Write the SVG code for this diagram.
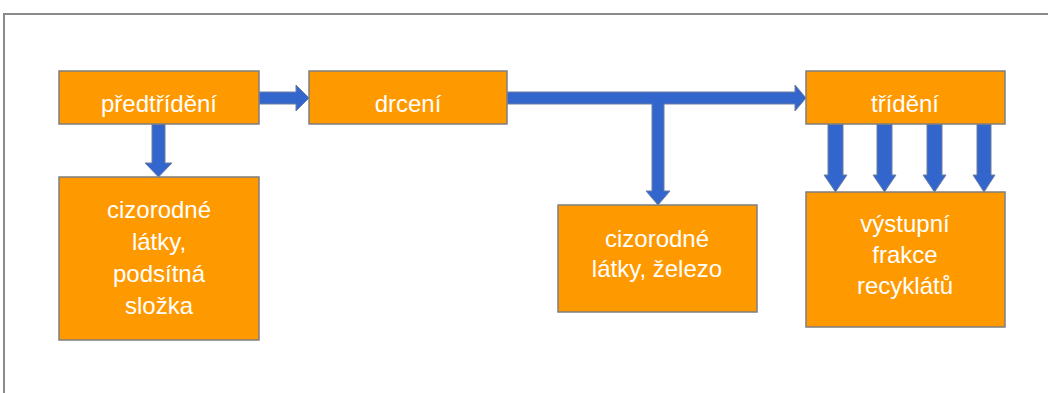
<svg xmlns="http://www.w3.org/2000/svg" width="1048" height="393" viewBox="0 0 1048 393">
<style>
.box{fill:#FF9900;stroke:#7F7F7F;stroke-width:1.5}
.arr{fill:#3366CC;stroke:#6F7F9F;stroke-width:1}
.t{font-family:"Liberation Sans",Arial,sans-serif;font-size:24px;fill:#FFFFFF;text-anchor:middle}
.frame{stroke:#8A8A8A;stroke-width:2;fill:none}
</style>
<rect width="1048" height="393" fill="#FFFFFF"/>
<path class="frame" d="M4,393 V14 H1048"/>
<g id="connectors">
<polygon class="arr" points="259,92 296,92 296,85 309,98 296,111 296,104 259,104"/>
<polygon class="arr" points="152,124 165,124 165,163 172,163 158.5,177 145,163 152,163"/>
<polygon class="arr" points="507,92 795,92 795,85 806,98 795,111 795,104 664,104 664,191 670,191 658,205 646,191 652,191 652,104 507,104"/>
<polygon class="arr" points="828,124 843,124 843,175 847,175 835.5,192 824,175 828,175"/>
<polygon class="arr" points="877,124 892,124 892,175 896,175 884.5,192 873,175 877,175"/>
<polygon class="arr" points="927,124 942,124 942,175 946,175 934.5,192 923,175 927,175"/>
<polygon class="arr" points="977,124 991,124 991,175 995,175 984,192 973,175 977,175"/>
</g>
<g id="predtrideni">
<rect class="box" x="59" y="71" width="200" height="53"/>
<text class="t" x="159" y="112">předtřídění</text>
</g>
<g id="drceni">
<rect class="box" x="309" y="71" width="198" height="53"/>
<text class="t" x="408" y="112">drcení</text>
</g>
<g id="trideni">
<rect class="box" x="806" y="71" width="199" height="53"/>
<text class="t" x="905" y="112">třídění</text>
</g>
<g id="cizorodne1">
<rect class="box" x="59" y="177" width="200" height="163"/>
<text class="t" x="159" y="218">cizorodné</text>
<text class="t" x="159" y="250">látky,</text>
<text class="t" x="159" y="282">podsítná</text>
<text class="t" x="159" y="314">složka</text>
</g>
<g id="cizorodne2">
<rect class="box" x="558" y="205" width="199" height="107"/>
<text class="t" x="657" y="247">cizorodné</text>
<text class="t" x="657" y="277">látky, železo</text>
</g>
<g id="vystupni">
<rect class="box" x="806" y="192" width="199" height="135"/>
<text class="t" x="905" y="232">výstupní</text>
<text class="t" x="905" y="263">frakce</text>
<text class="t" x="905" y="294">recyklátů</text>
</g>
</svg>
